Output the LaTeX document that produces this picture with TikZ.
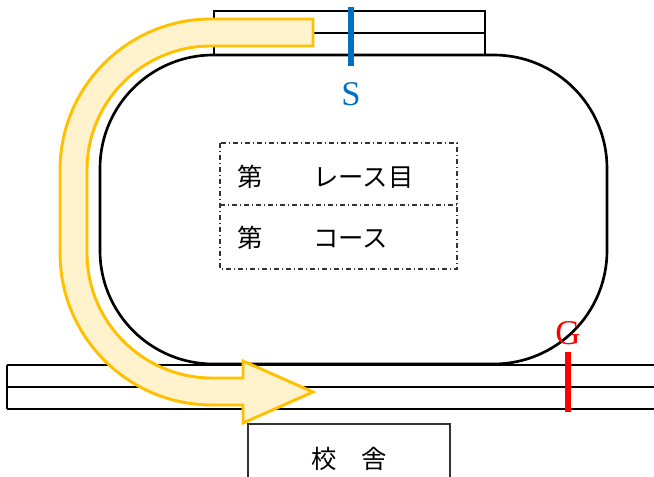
\documentclass[tikz,border=0pt]{standalone}
\usepackage{fontspec}
\setmainfont{Liberation Serif}
\newfontfamily\jpfont{Noto Sans CJK JP}
\usepackage{tikz}

\definecolor{bandline}{RGB}{255,192,0}
\definecolor{bandfill}{RGB}{255,242,204}
\definecolor{startblue}{RGB}{0,112,192}

\tikzset{
  lane/.style={line width=2pt, black},
  fieldbox/.style={line width=0.9pt, black!80, dash pattern=on 4pt off 2pt on 1pt off 2pt},
  jptext/.style={inner sep=0pt, font=\jpfont\fontsize{19}{21}\selectfont},
  flaglabel/.style={inner sep=0pt, font=\fontsize{26}{28}\selectfont}
}

\begin{document}
\begin{tikzpicture}[x=0.75pt,y=0.75pt,yscale=-1,xscale=1]
    \clip (0,0) rectangle (654,477);
    % track
    \draw [lane, rounded corners=85pt] (100,55) rectangle (607,364) ;
    % start straight
    \draw [lane] (214,11) rectangle (485,55) ;
    \draw [lane] (214,33) -- (485,33) ;
    % home straight
    \draw [lane] (7,365) -- (660,365) ;
    \draw [lane] (7,387) -- (660,387) ;
    \draw [lane] (7,409) -- (660,409) ;
    \draw [lane] (7,365) -- (7,409) ;
    % school building
    \draw [line width=1pt, black!80] (248,480) -- (248,424) -- (450,424) -- (450,480) ;
    \draw (349,459) node [jptext] (school) {校　舎};
    % entry box
    \draw [fieldbox] (220,143) rectangle (457,269) ;
    \draw [fieldbox] (220,205) -- (457,205) ;
    \draw (237,177) node [jptext, anchor=west] (race) {第　　レース目};
    \draw (237,238) node [jptext, anchor=west] (course) {第　　コース};
    % running direction
    \draw [line width=2.2pt, bandline, fill=bandfill, line join=miter]
      (313,19) -- (211,19) arc [start angle=270, end angle=180, radius=151]
      -- (60,253) arc [start angle=180, end angle=90, radius=152]
      -- (243,405) -- (243,423) -- (313,392) -- (243,361) -- (243,378)
      -- (212,378) arc [start angle=90, end angle=180, radius=125]
      -- (87,170) arc [start angle=180, end angle=270, radius=124]
      -- (313,46) -- cycle ;
    % start and goal
    \draw [line width=4.2pt, startblue] (351,7) -- (351,66) ;
    \draw (351,94) node [flaglabel, text=startblue] (start) {S};
    \draw [line width=4.2pt, red] (568,352) -- (568,412) ;
    \draw (568,333) node [flaglabel, text=red] (goal) {G};
\end{tikzpicture}
\end{document}
